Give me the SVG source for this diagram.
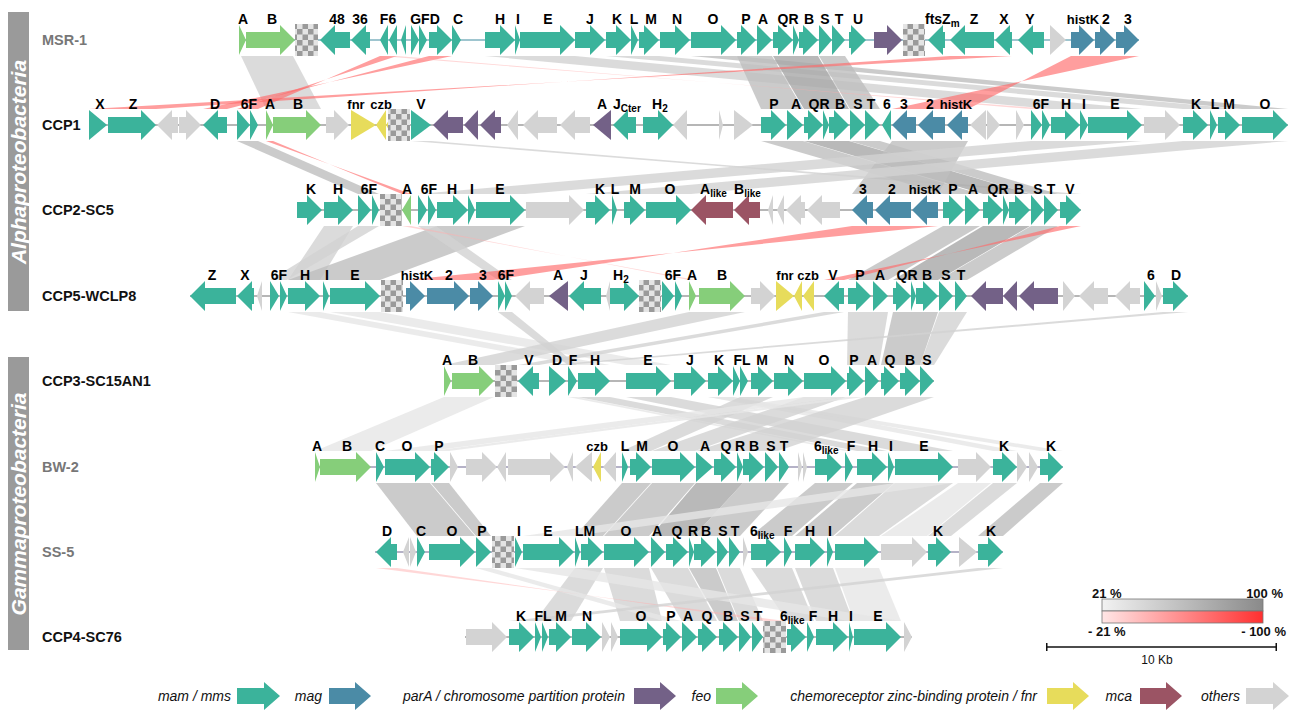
<svg xmlns="http://www.w3.org/2000/svg" width="1296" height="710" viewBox="0 0 1296 710">
<defs>
<pattern id="ck" width="11" height="11" patternUnits="userSpaceOnUse"><rect width="11" height="11" fill="#e4e4e4"/><rect width="5.5" height="5.5" fill="#9a9a9a"/><rect x="5.5" y="5.5" width="5.5" height="5.5" fill="#9a9a9a"/></pattern>
<linearGradient id="gg" x1="0" x2="1" y1="0" y2="0"><stop offset="0" stop-color="#f2f2f2"/><stop offset="1" stop-color="#8a8a8a"/></linearGradient>
<linearGradient id="rg" x1="0" x2="1" y1="0" y2="0"><stop offset="0" stop-color="#ffe6e6"/><stop offset="1" stop-color="#ff3030"/></linearGradient>
</defs>
<style>
.m{fill:#3bb39b}.g{fill:#4b8ba6}.p{fill:#736187}.f{fill:#86ce7a}.y{fill:#e7dc5b}.c{fill:#9b5464}.o{fill:#d3d3d3}
.ck{fill:url(#ck)}
.bb{stroke:#6e6e6e;stroke-width:1.2}
.t{font-family:"Liberation Sans",Arial,Helvetica,sans-serif;font-weight:bold;font-size:14px;text-anchor:middle;fill:#000}
.st{text-anchor:start}
.s{font-size:10px}
.h{font-size:13px}
.rl{font-family:"Liberation Sans",Arial,Helvetica,sans-serif;font-weight:bold;font-size:14.5px;fill:#111}
.gr{fill:#777}
.b0{fill:#e6e6e6;fill-opacity:.8}.b1{fill:#d2d2d2;fill-opacity:.8}.b2{fill:#bebebe;fill-opacity:.8}.b3{fill:#a8a8a8;fill-opacity:.8}
.r0{fill:#ffb0b0;fill-opacity:.5}.r1{fill:#ff6a6a;fill-opacity:.65}
.lg{font-family:"Liberation Sans",Arial,Helvetica,sans-serif;font-style:italic;font-size:14px;text-anchor:end;fill:#111}
.sc{font-family:"Liberation Sans",Arial,Helvetica,sans-serif;font-weight:bold;font-size:13px;fill:#111}
.side{font-family:"Liberation Sans",Arial,Helvetica,sans-serif;font-weight:bold;font-style:italic;font-size:21px;fill:#fff;text-anchor:middle}
</style>
<rect width="1296" height="710" fill="#fff"/>

<g id="groups">
<rect x="8" y="12" width="21" height="299" fill="#9a9a9a"/>
<text class="side" transform="translate(26,162) rotate(-90)">Alphaproteobacteria</text>
<rect x="8" y="357" width="21" height="293" fill="#9a9a9a"/>
<text class="side" transform="translate(26,504) rotate(-90)">Gammaproteobacteria</text>
</g>

<g id="connectors">
<polygon class="b1" points="241,56 293,56 321,109 266,109"/>
<polygon class="b1" points="485,56 575,56 1142,109 1051,109"/>
<polygon class="b1" points="606,56 659,56 1240,109 1183,109"/>
<polygon class="b2" points="691,56 736,56 1288,109 1242,109"/>
<polygon class="b2" points="737,56 772,56 803,109 761,109"/>
<polygon class="b3" points="773,56 818,56 849,109 804,109"/>
<polygon class="b2" points="819,56 845,56 880,109 850,109"/>
<polygon class="r1" points="1071,56 1139,56 892,109 968,109"/>
<polygon class="r1" points="950,56 1012,56 89,109 156,109"/>
<polygon class="r1" points="429,56 452,56 203,109 227,109"/>
<polygon class="r1" points="380,56 397,56 237,109 258,109"/>
<polygon class="r0" points="380,56 397,56 1031,109 1050,109"/>

<polygon class="b2" points="237,141 258,141 379,194 358,194"/>
<polygon class="r1" points="266,141 273,141 402,194 411,194"/>
<polygon class="b1" points="411,141 431,141 1081,194 1060,194"/>
<polygon class="b2" points="761,141 803,141 980,194 943,194"/>
<polygon class="b3" points="804,141 849,141 1030,194 983,194"/>
<polygon class="b2" points="850,141 880,141 1058,194 1031,194"/>
<polygon class="b2" points="892,141 968,141 938,194 852,194"/>
<polygon class="b1" points="1031,141 1142,141 525,194 418,194"/>
<polygon class="b1" points="1183,141 1288,141 691,194 586,194"/>

<polygon class="b1" points="324,226 353,226 320,280 288,280"/>
<polygon class="b1" points="358,226 379,226 287,280 270,280"/>
<polygon class="b2" points="437,226 525,226 380,280 288,280"/>
<polygon class="b1" points="418,226 436,226 512,280 498,280"/>
<polygon class="r1" points="852,226 938,226 406,280 493,280"/>
<polygon class="b2" points="943,226 980,226 888,280 848,280"/>
<polygon class="b3" points="983,226 1030,226 938,280 893,280"/>
<polygon class="b2" points="1031,226 1058,226 967,280 939,280"/>
<polygon class="r1" points="1060,226 1081,226 824,280 844,280"/>
<polygon class="r0" points="402,226 411,226 689,280 696,280"/>

<polygon class="b0" points="288,312 320,312 610,365 578,365"/>
<polygon class="b0" points="330,312 380,312 671,365 626,365"/>
<polygon class="b1" points="498,312 512,312 577,365 568,365"/>
<polygon class="b1" points="689,312 745,312 494,365 444,365"/>
<polygon class="b1" points="824,312 844,312 539,365 518,365"/>
<polygon class="b1" points="848,312 888,312 879,365 847,365"/>
<polygon class="b2" points="893,312 938,312 920,365 881,365"/>
<polygon class="b1" points="939,312 967,312 934,365 920,365"/>
<polygon class="b1" points="1163,312 1188,312 566,365 549,365"/>

<polygon class="b0" points="444,397 494,397 371,451 315,451"/>
<polygon class="b0" points="568,397 577,397 853,451 845,451"/>
<polygon class="b1" points="578,397 610,397 887,451 857,451"/>
<polygon class="b1" points="626,397 671,397 953,451 895,451"/>
<polygon class="b0" points="708,397 733,397 1017,451 993,451"/>
<polygon class="b0" points="708,397 733,397 1063,451 1040,451"/>
<polygon class="b1" points="740,397 773,397 651,451 622,451"/>
<polygon class="b1" points="804,397 846,397 695,451 652,451"/>
<polygon class="b0" points="804,397 846,397 430,451 385,451"/>
<polygon class="b0" points="847,397 864,397 449,451 431,451"/>
<polygon class="b1" points="865,397 934,397 778,451 696,451"/>

<polygon class="b2" points="376,483 430,483 475,536 417,536"/>
<polygon class="b2" points="431,483 449,483 491,536 476,536"/>
<polygon class="b2" points="622,483 651,483 603,536 575,536"/>
<polygon class="b2" points="652,483 695,483 649,536 604,536"/>
<polygon class="b3" points="696,483 743,483 694,536 651,536"/>
<polygon class="b2" points="743,483 789,483 740,536 694,536"/>
<polygon class="b2" points="815,483 853,483 792,536 751,536"/>
<polygon class="b2" points="857,483 894,483 833,536 795,536"/>
<polygon class="b1" points="895,483 953,483 879,536 835,536"/>
<polygon class="b0" points="895,483 953,483 574,536 523,536"/>
<polygon class="b0" points="958,483 991,483 927,536 881,536"/>
<polygon class="b1" points="993,483 1017,483 951,536 928,536"/>
<polygon class="b2" points="1040,483 1063,483 1003,536 978,536"/>

<polygon class="b1" points="575,568 603,568 571,621 535,621"/>
<polygon class="b1" points="604,568 649,568 662,621 620,621"/>
<polygon class="b0" points="476,568 491,568 681,621 663,621"/>
<polygon class="b1" points="651,568 688,568 717,621 682,621"/>
<polygon class="b2" points="689,568 716,568 738,621 719,621"/>
<polygon class="b1" points="717,568 740,568 763,621 739,621"/>
<polygon class="b1" points="751,568 792,568 814,621 787,621"/>
<polygon class="b1" points="795,568 833,568 853,621 816,621"/>
<polygon class="b0" points="835,568 879,568 901,621 854,621"/>
<polygon class="b0" points="515,568 574,568 901,621 849,621"/>
<polygon class="r0" points="376,568 397,568 765,621 785,621"/>
<polygon class="b1" points="978,568 1003,568 534,621 509,621"/>
</g>

<g id="MSR-1" transform="translate(0,40)">
<text class="rl gr" x="42" y="5">MSR-1</text>
<line class="bb" x1="239" x2="1139" y1="0" y2="0" style="stroke:#3f8ca0"/>
<polygon class="f" points="239,-15 246,0 239,15"/>
<polygon class="f" points="246,-8 280,-8 280,-15 295,0 280,15 280,8 246,8"/>
<rect class="ck" x="295" y="-16" width="23" height="32"/>
<polygon class="m" points="350,-8 335,-8 335,-15 320,0 335,15 335,8 350,8"/>
<polygon class="m" points="370,-8 366,-8 366,-15 351,0 366,15 366,8 370,8"/>
<polygon class="m" points="388,-15 380,0 388,15"/>
<polygon class="m" points="397,-15 389,0 397,15"/>
<polygon class="m" points="406,-15 401,0 406,15"/>
<polygon class="m" points="411,-15 419,0 411,15"/>
<polygon class="m" points="419,-15 427,0 419,15"/>
<polygon class="m" points="429,-8 437,-8 437,-15 452,0 437,15 437,8 429,8"/>
<polygon class="m" points="452,-15 461,0 452,15"/>
<polygon class="m" points="485,-8 500,-8 500,-15 515,0 500,15 500,8 485,8"/>
<polygon class="m" points="515,-15 520,0 515,15"/>
<polygon class="m" points="520,-8 560,-8 560,-15 575,0 560,15 560,8 520,8"/>
<polygon class="m" points="575,-8 590,-8 590,-15 605,0 590,15 590,8 575,8"/>
<polygon class="m" points="606,-8 616,-8 616,-15 631,0 616,15 616,8 606,8"/>
<polygon class="m" points="631,-15 638,0 631,15"/>
<polygon class="m" points="639,-8 644,-8 644,-15 659,0 644,15 644,8 639,8"/>
<polygon class="m" points="660,-8 675,-8 675,-15 690,0 675,15 675,8 660,8"/>
<polygon class="m" points="691,-8 721,-8 721,-15 736,0 721,15 721,8 691,8"/>
<polygon class="m" points="737,-8 741,-8 741,-15 756,0 741,15 741,8 737,8"/>
<polygon class="m" points="757,-15 772,0 757,15"/>
<polygon class="m" points="773,-8 778,-8 778,-15 793,0 778,15 778,8 773,8"/>
<polygon class="m" points="793,-15 799,0 793,15"/>
<polygon class="m" points="799,-8 803,-8 803,-15 818,0 803,15 803,8 799,8"/>
<polygon class="m" points="819,-15 832,0 819,15"/>
<polygon class="m" points="832,-15 845,0 832,15"/>
<polygon class="m" points="849,-8 851,-8 851,-15 866,0 851,15 851,8 849,8"/>
<polygon class="p" points="874,-8 887,-8 887,-15 902,0 887,15 887,8 874,8"/>
<rect class="ck" x="903" y="-16" width="22" height="32"/>
<polygon class="m" points="945,-8 943,-8 943,-15 928,0 943,15 943,8 945,8"/>
<polygon class="m" points="994,-8 965,-8 965,-15 950,0 965,15 965,8 994,8"/>
<polygon class="m" points="1012,-8 1010,-8 1010,-15 995,0 1010,15 1010,8 1012,8"/>
<polygon class="m" points="1044,-8 1033,-8 1033,-15 1018,0 1033,15 1033,8 1044,8"/>
<polygon class="o" points="1050,-15 1066,0 1050,15"/>
<polygon class="g" points="1071,-8 1079,-8 1079,-15 1094,0 1079,15 1079,8 1071,8"/>
<polygon class="g" points="1095,-8 1100,-8 1100,-15 1115,0 1100,15 1100,8 1095,8"/>
<polygon class="g" points="1116,-8 1124,-8 1124,-15 1139,0 1124,15 1124,8 1116,8"/>
<text class="t" x="243" y="-16">A</text><text class="t" x="272" y="-16">B</text>
<text class="t" x="337" y="-16">48</text><text class="t" x="360" y="-16">36</text>
<text class="t" x="388" y="-16">F6</text><text class="t" x="425" y="-16">GFD</text>
<text class="t" x="458" y="-16">C</text><text class="t" x="500" y="-16">H</text>
<text class="t" x="518" y="-16">I</text><text class="t" x="548" y="-16">E</text>
<text class="t" x="590" y="-16">J</text><text class="t" x="617" y="-16">K</text>
<text class="t" x="634" y="-16">L</text><text class="t" x="651" y="-16">M</text>
<text class="t" x="677" y="-16">N</text><text class="t" x="713" y="-16">O</text>
<text class="t" x="746" y="-16">P</text><text class="t" x="763" y="-16">A</text>
<text class="t" x="788" y="-16">QR</text><text class="t" x="809" y="-16">B</text>
<text class="t" x="825" y="-16">S</text><text class="t" x="839" y="-16">T</text>
<text class="t" x="858" y="-16">U</text>
<text class="t st" x="925" y="-16">ftsZ<tspan class="s" dy="3">m</tspan></text>
<text class="t" x="974" y="-16">Z</text><text class="t" x="1004" y="-16">X</text>
<text class="t" x="1030" y="-16">Y</text><text class="t h" x="1083" y="-16">histK</text>
<text class="t" x="1106" y="-16">2</text><text class="t" x="1128" y="-16">3</text>
</g>

<g id="CCP1" transform="translate(0,125)">
<text class="rl" x="42" y="5">CCP1</text>
<line class="bb" x1="89" x2="1288" y1="0" y2="0"/>
<polygon class="m" points="89,-15 107,0 89,15"/>
<polygon class="m" points="108,-8 141,-8 141,-15 156,0 141,15 141,8 108,8"/>
<polygon class="o" points="178,-8 172,-8 172,-15 157,0 172,15 172,8 178,8"/>
<polygon class="o" points="179,-8 186,-8 186,-15 201,0 186,15 186,8 179,8"/>
<polygon class="m" points="227,-8 218,-8 218,-15 203,0 218,15 218,8 227,8"/>
<polygon class="m" points="237,-15 250,0 237,15"/>
<polygon class="m" points="250,-15 258,0 250,15"/>
<polygon class="f" points="266,-15 273,0 266,15"/>
<polygon class="f" points="273,-8 306,-8 306,-15 321,0 306,15 306,8 273,8"/>
<polygon class="o" points="326,-8 334,-8 334,-15 349,0 334,15 334,8 326,8"/>
<polygon class="y" points="351,-15 376,0 351,15"/>
<polygon class="y" points="386,-15 376,0 386,15"/>
<polygon class="y" points="395,-15 386,0 395,15"/>
<rect class="ck" x="388" y="-16" width="22" height="32"/>
<polygon class="m" points="411,-15 431,0 411,15"/>
<polygon class="p" points="463,-8 448,-8 448,-15 433,0 448,15 448,8 463,8"/>
<polygon class="p" points="478,-15 464,0 478,15"/>
<polygon class="p" points="501,-8 495,-8 495,-15 480,0 495,15 495,8 501,8"/>
<polygon class="o" points="518,-15 507,0 518,15"/>
<polygon class="o" points="557,-8 538,-8 538,-15 523,0 538,15 538,8 557,8"/>
<polygon class="o" points="590,-8 575,-8 575,-15 560,0 575,15 575,8 590,8"/>
<polygon class="p" points="611,-15 593,0 611,15"/>
<polygon class="m" points="636,-8 628,-8 628,-15 613,0 628,15 628,8 636,8"/>
<polygon class="m" points="643,-8 658,-8 658,-15 673,0 658,15 658,8 643,8"/>
<polygon class="o" points="687,-15 673,0 687,15"/>
<polygon class="o" points="719,-15 723,0 719,15"/>
<polygon class="o" points="734,-15 753,0 734,15"/>
<polygon class="m" points="761,-8 771,-8 771,-15 786,0 771,15 771,8 761,8"/>
<polygon class="m" points="787,-15 803,0 787,15"/>
<polygon class="m" points="804,-8 808,-8 808,-15 823,0 808,15 808,8 804,8"/>
<polygon class="m" points="823,-15 829,0 823,15"/>
<polygon class="m" points="829,-8 834,-8 834,-15 849,0 834,15 834,8 829,8"/>
<polygon class="m" points="850,-15 865,0 850,15"/>
<polygon class="m" points="865,-15 880,0 865,15"/>
<polygon class="m" points="891,-15 882,0 891,15"/>
<polygon class="g" points="916,-8 907,-8 907,-15 892,0 907,15 907,8 916,8"/>
<polygon class="g" points="945,-8 933,-8 933,-15 918,0 933,15 933,8 945,8"/>
<polygon class="g" points="968,-8 962,-8 962,-15 947,0 962,15 962,8 968,8"/>
<polygon class="o" points="986,-15 970,0 986,15"/>
<polygon class="o" points="987,-15 1000,0 987,15"/>
<polygon class="o" points="1016,-15 1024,0 1016,15"/>
<polygon class="m" points="1031,-15 1042,0 1031,15"/>
<polygon class="m" points="1042,-15 1050,0 1042,15"/>
<polygon class="m" points="1051,-8 1065,-8 1065,-15 1080,0 1065,15 1065,8 1051,8"/>
<polygon class="m" points="1080,-15 1088,0 1080,15"/>
<polygon class="m" points="1088,-8 1127,-8 1127,-15 1142,0 1127,15 1127,8 1088,8"/>
<polygon class="o" points="1144,-8 1165,-8 1165,-15 1180,0 1165,15 1165,8 1144,8"/>
<polygon class="m" points="1183,-8 1193,-8 1193,-15 1208,0 1193,15 1193,8 1183,8"/>
<polygon class="m" points="1210,-15 1217,0 1210,15"/>
<polygon class="m" points="1218,-8 1225,-8 1225,-15 1240,0 1225,15 1225,8 1218,8"/>
<polygon class="m" points="1242,-8 1273,-8 1273,-15 1288,0 1273,15 1273,8 1242,8"/>
<text class="t" x="100" y="-16">X</text><text class="t" x="133" y="-16">Z</text>
<text class="t" x="215" y="-16">D</text><text class="t" x="249" y="-16">6F</text>
<text class="t" x="270" y="-16">A</text><text class="t" x="298" y="-16">B</text>
<text class="t h" x="356" y="-16">fnr</text><text class="t h" x="381" y="-16">czb</text>
<text class="t" x="421" y="-16">V</text><text class="t" x="602" y="-16">A</text>
<text class="t st" x="613" y="-16">J<tspan class="s" dy="3">Cter</tspan></text>
<text class="t st" x="652" y="-16">H<tspan class="s" dy="3">2</tspan></text>
<text class="t" x="774" y="-16">P</text><text class="t" x="796" y="-16">A</text>
<text class="t" x="819" y="-16">QR</text><text class="t" x="840" y="-16">B</text>
<text class="t" x="858" y="-16">S</text><text class="t" x="871" y="-16">T</text>
<text class="t" x="887" y="-16">6</text><text class="t" x="904" y="-16">3</text>
<text class="t" x="930" y="-16">2</text><text class="t h" x="956" y="-16">histK</text>
<text class="t" x="1041" y="-16">6F</text><text class="t" x="1066" y="-16">H</text>
<text class="t" x="1084" y="-16">I</text><text class="t" x="1115" y="-16">E</text>
<text class="t" x="1196" y="-16">K</text><text class="t" x="1215" y="-16">L</text>
<text class="t" x="1229" y="-16">M</text><text class="t" x="1265" y="-16">O</text>
</g>

<g id="CCP2-SC5" transform="translate(0,210)">
<text class="rl" x="42" y="5">CCP2-SC5</text>
<line class="bb" x1="297" x2="1081" y1="0" y2="0"/>
<polygon class="m" points="297,-8 307,-8 307,-15 322,0 307,15 307,8 297,8"/>
<polygon class="m" points="324,-8 338,-8 338,-15 353,0 338,15 338,8 324,8"/>
<polygon class="m" points="358,-15 371,0 358,15"/>
<polygon class="m" points="372,-15 379,0 372,15"/>
<rect class="ck" x="380" y="-16" width="22" height="32"/>
<polygon class="f" points="411,-15 402,0 411,15"/>
<polygon class="m" points="418,-15 427,0 418,15"/>
<polygon class="m" points="428,-15 436,0 428,15"/>
<polygon class="m" points="437,-8 453,-8 453,-15 468,0 453,15 453,8 437,8"/>
<polygon class="m" points="468,-15 475,0 468,15"/>
<polygon class="m" points="476,-8 510,-8 510,-15 525,0 510,15 510,8 476,8"/>
<polygon class="o" points="526,-8 569,-8 569,-15 584,0 569,15 569,8 526,8"/>
<polygon class="m" points="586,-8 595,-8 595,-15 610,0 595,15 595,8 586,8"/>
<polygon class="m" points="612,-15 617,0 612,15"/>
<polygon class="m" points="624,-8 630,-8 630,-15 645,0 630,15 630,8 624,8"/>
<polygon class="m" points="646,-8 676,-8 676,-15 691,0 676,15 676,8 646,8"/>
<polygon class="c" points="733,-8 706,-8 706,-15 691,0 706,15 706,8 733,8"/>
<polygon class="c" points="760,-8 749,-8 749,-15 734,0 749,15 749,8 760,8"/>
<polygon class="o" points="773,-15 768,0 773,15"/>
<polygon class="o" points="784,-15 777,0 784,15"/>
<polygon class="o" points="805,-8 801,-8 801,-15 786,0 801,15 801,8 805,8"/>
<polygon class="o" points="840,-8 822,-8 822,-15 807,0 822,15 822,8 840,8"/>
<polygon class="g" points="873,-8 867,-8 867,-15 852,0 867,15 867,8 873,8"/>
<polygon class="g" points="911,-8 890,-8 890,-15 875,0 890,15 890,8 911,8"/>
<polygon class="g" points="938,-8 927,-8 927,-15 912,0 927,15 927,8 938,8"/>
<polygon class="m" points="943,-8 949,-8 949,-15 964,0 949,15 949,8 943,8"/>
<polygon class="m" points="965,-15 980,0 965,15"/>
<polygon class="m" points="983,-8 988,-8 988,-15 1003,0 988,15 988,8 983,8"/>
<polygon class="m" points="1003,-15 1009,0 1003,15"/>
<polygon class="m" points="1009,-8 1015,-8 1015,-15 1030,0 1015,15 1015,8 1009,8"/>
<polygon class="m" points="1031,-15 1044,0 1031,15"/>
<polygon class="m" points="1044,-15 1058,0 1044,15"/>
<polygon class="m" points="1060,-8 1066,-8 1066,-15 1081,0 1066,15 1066,8 1060,8"/>
<text class="t" x="311" y="-16">K</text><text class="t" x="338" y="-16">H</text>
<text class="t" x="369" y="-16">6F</text><text class="t" x="407" y="-16">A</text>
<text class="t" x="429" y="-16">6F</text><text class="t" x="452" y="-16">H</text>
<text class="t" x="472" y="-16">I</text><text class="t" x="500" y="-16">E</text>
<text class="t" x="600" y="-16">K</text><text class="t" x="615" y="-16">L</text>
<text class="t" x="635" y="-16">M</text><text class="t" x="670" y="-16">O</text>
<text class="t st" x="700" y="-16">A<tspan class="s" dy="3">like</tspan></text>
<text class="t st" x="734" y="-16">B<tspan class="s" dy="3">like</tspan></text>
<text class="t" x="863" y="-16">3</text><text class="t" x="892" y="-16">2</text>
<text class="t h" x="925" y="-16">histK</text><text class="t" x="953" y="-16">P</text>
<text class="t" x="973" y="-16">A</text><text class="t" x="998" y="-16">QR</text>
<text class="t" x="1019" y="-16">B</text><text class="t" x="1038" y="-16">S</text>
<text class="t" x="1051" y="-16">T</text><text class="t" x="1070" y="-16">V</text>
</g>

<g id="CCP5-WCLP8" transform="translate(0,296)">
<text class="rl" x="42" y="5">CCP5-WCLP8</text>
<line class="bb" x1="190" x2="1188" y1="0" y2="0"/>
<polygon class="m" points="236,-8 205,-8 205,-15 190,0 205,15 205,8 236,8"/>
<polygon class="m" points="254,-8 252,-8 252,-15 237,0 252,15 252,8 254,8"/>
<polygon class="o" points="262,-15 257,0 262,15"/>
<polygon class="m" points="270,-15 279,0 270,15"/>
<polygon class="m" points="280,-15 287,0 280,15"/>
<polygon class="m" points="288,-8 305,-8 305,-15 320,0 305,15 305,8 288,8"/>
<polygon class="m" points="323,-15 329,0 323,15"/>
<polygon class="m" points="330,-8 365,-8 365,-15 380,0 365,15 365,8 330,8"/>
<rect class="ck" x="381" y="-16" width="22" height="32"/>
<polygon class="g" points="406,-8 410,-8 410,-15 425,0 410,15 410,8 406,8"/>
<polygon class="g" points="427,-8 454,-8 454,-15 469,0 454,15 454,8 427,8"/>
<polygon class="g" points="470,-8 478,-8 478,-15 493,0 478,15 478,8 470,8"/>
<polygon class="m" points="498,-15 505,0 498,15"/>
<polygon class="m" points="505,-15 512,0 505,15"/>
<polygon class="o" points="544,-8 530,-8 530,-15 515,0 530,15 530,8 544,8"/>
<polygon class="p" points="568,-15 549,0 568,15"/>
<polygon class="m" points="601,-8 584,-8 584,-15 569,0 584,15 584,8 601,8"/>
<polygon class="o" points="610,-15 606,0 610,15"/>
<polygon class="m" points="610,-8 624,-8 624,-15 639,0 624,15 624,8 610,8"/>
<rect class="ck" x="639" y="-16" width="22" height="32"/>
<polygon class="m" points="662,-15 674,0 662,15"/>
<polygon class="m" points="675,-15 682,0 675,15"/>
<polygon class="f" points="689,-15 696,0 689,15"/>
<polygon class="f" points="699,-8 730,-8 730,-15 745,0 730,15 730,8 699,8"/>
<polygon class="o" points="751,-8 760,-8 760,-15 775,0 760,15 760,8 751,8"/>
<polygon class="y" points="776,-15 794,0 776,15"/>
<polygon class="y" points="802,-15 794,0 802,15"/>
<polygon class="y" points="814,-15 803,0 814,15"/>
<polygon class="m" points="844,-8 839,-8 839,-15 824,0 839,15 839,8 844,8"/>
<polygon class="m" points="848,-8 856,-8 856,-15 871,0 856,15 856,8 848,8"/>
<polygon class="m" points="873,-15 888,0 873,15"/>
<polygon class="m" points="893,-8 896,-8 896,-15 911,0 896,15 896,8 893,8"/>
<polygon class="m" points="911,-15 916,0 911,15"/>
<polygon class="m" points="916,-8 923,-8 923,-15 938,0 923,15 923,8 916,8"/>
<polygon class="m" points="939,-15 953,0 939,15"/>
<polygon class="m" points="955,-15 967,0 955,15"/>
<polygon class="p" points="1003,-8 986,-8 986,-15 971,0 986,15 986,8 1003,8"/>
<polygon class="p" points="1017,-15 1003,0 1017,15"/>
<polygon class="p" points="1058,-8 1034,-8 1034,-15 1019,0 1034,15 1034,8 1058,8"/>
<polygon class="o" points="1063,-15 1075,0 1063,15"/>
<polygon class="o" points="1108,-8 1094,-8 1094,-15 1079,0 1094,15 1094,8 1108,8"/>
<polygon class="o" points="1140,-8 1130,-8 1130,-15 1115,0 1130,15 1130,8 1140,8"/>
<polygon class="m" points="1144,-15 1155,0 1144,15"/>
<polygon class="o" points="1156,-15 1162,0 1156,15"/>
<polygon class="m" points="1163,-8 1173,-8 1173,-15 1188,0 1173,15 1173,8 1163,8"/>
<text class="t" x="212" y="-16">Z</text><text class="t" x="245" y="-16">X</text>
<text class="t" x="279" y="-16">6F</text><text class="t" x="305" y="-16">H</text>
<text class="t" x="327" y="-16">I</text><text class="t" x="355" y="-16">E</text>
<text class="t h" x="417" y="-16">histK</text><text class="t" x="449" y="-16">2</text>
<text class="t" x="483" y="-16">3</text><text class="t" x="506" y="-16">6F</text>
<text class="t" x="558" y="-16">A</text><text class="t" x="584" y="-16">J</text>
<text class="t st" x="613" y="-16">H<tspan class="s" dy="3">2</tspan></text>
<text class="t" x="673" y="-16">6F</text><text class="t" x="692" y="-16">A</text>
<text class="t" x="722" y="-16">B</text>
<text class="t h" x="785" y="-16">fnr</text><text class="t h" x="808" y="-16">czb</text>
<text class="t" x="833" y="-16">V</text><text class="t" x="860" y="-16">P</text>
<text class="t" x="880" y="-16">A</text><text class="t" x="907" y="-16">QR</text>
<text class="t" x="927" y="-16">B</text><text class="t" x="946" y="-16">S</text>
<text class="t" x="961" y="-16">T</text><text class="t" x="1151" y="-16">6</text>
<text class="t" x="1176" y="-16">D</text>
</g>

<g id="CCP3-SC15AN1" transform="translate(0,381)">
<text class="rl" x="42" y="5">CCP3-SC15AN1</text>
<line class="bb" x1="444" x2="934" y1="0" y2="0"/>
<polygon class="f" points="444,-15 451,0 444,15"/>
<polygon class="f" points="452,-8 479,-8 479,-15 494,0 479,15 479,8 452,8"/>
<rect class="ck" x="495" y="-16" width="22" height="32"/>
<polygon class="m" points="539,-8 533,-8 533,-15 518,0 533,15 533,8 539,8"/>
<polygon class="m" points="549,-15 566,0 549,15"/>
<polygon class="m" points="568,-15 577,0 568,15"/>
<polygon class="m" points="578,-8 595,-8 595,-15 610,0 595,15 595,8 578,8"/>
<polygon class="m" points="626,-8 656,-8 656,-15 671,0 656,15 656,8 626,8"/>
<polygon class="m" points="674,-8 691,-8 691,-15 706,0 691,15 691,8 674,8"/>
<polygon class="m" points="708,-8 718,-8 718,-15 733,0 718,15 718,8 708,8"/>
<polygon class="m" points="733,-15 740,0 733,15"/>
<polygon class="m" points="740,-15 748,0 740,15"/>
<polygon class="m" points="751,-8 758,-8 758,-15 773,0 758,15 758,8 751,8"/>
<polygon class="m" points="774,-8 788,-8 788,-15 803,0 788,15 788,8 774,8"/>
<polygon class="m" points="804,-8 831,-8 831,-15 846,0 831,15 831,8 804,8"/>
<polygon class="m" points="847,-8 849,-8 849,-15 864,0 849,15 849,8 847,8"/>
<polygon class="m" points="865,-15 879,0 865,15"/>
<polygon class="m" points="881,-8 884,-8 884,-15 899,0 884,15 884,8 881,8"/>
<polygon class="m" points="900,-8 905,-8 905,-15 920,0 905,15 905,8 900,8"/>
<polygon class="m" points="920,-15 934,0 920,15"/>
<text class="t" x="447" y="-16">A</text><text class="t" x="473" y="-16">B</text>
<text class="t" x="529" y="-16">V</text><text class="t" x="557" y="-16">D</text>
<text class="t" x="573" y="-16">F</text><text class="t" x="595" y="-16">H</text>
<text class="t" x="648" y="-16">E</text><text class="t" x="690" y="-16">J</text>
<text class="t" x="719" y="-16">K</text><text class="t" x="742" y="-16">FL</text>
<text class="t" x="762" y="-16">M</text><text class="t" x="789" y="-16">N</text>
<text class="t" x="824" y="-16">O</text><text class="t" x="854" y="-16">P</text>
<text class="t" x="872" y="-16">A</text><text class="t" x="890" y="-16">Q</text>
<text class="t" x="910" y="-16">B</text><text class="t" x="927" y="-16">S</text>
</g>

<g id="BW-2" transform="translate(0,467)">
<text class="rl gr" x="42" y="5">BW-2</text>
<line class="bb" x1="315" x2="1063" y1="0" y2="0" style="stroke:#6d6690"/>
<polygon class="f" points="315,-15 320,0 315,15"/>
<polygon class="f" points="320,-8 356,-8 356,-15 371,0 356,15 356,8 320,8"/>
<polygon class="m" points="376,-15 384,0 376,15"/>
<polygon class="m" points="385,-8 415,-8 415,-15 430,0 415,15 415,8 385,8"/>
<polygon class="m" points="431,-8 434,-8 434,-15 449,0 434,15 434,8 431,8"/>
<polygon class="o" points="450,-15 458,0 450,15"/>
<polygon class="o" points="466,-8 482,-8 482,-15 497,0 482,15 482,8 466,8"/>
<polygon class="o" points="506,-15 497,0 506,15"/>
<polygon class="o" points="508,-8 550,-8 550,-15 565,0 550,15 550,8 508,8"/>
<polygon class="o" points="573,-15 567,0 573,15"/>
<polygon class="o" points="592,-15 575,0 592,15"/>
<polygon class="y" points="601,-15 593,0 601,15"/>
<polygon class="o" points="616,-15 603,0 616,15"/>
<polygon class="m" points="622,-15 628,0 622,15"/>
<polygon class="m" points="630,-8 636,-8 636,-15 651,0 636,15 636,8 630,8"/>
<polygon class="m" points="652,-8 680,-8 680,-15 695,0 680,15 680,8 652,8"/>
<polygon class="m" points="696,-15 713,0 696,15"/>
<polygon class="m" points="714,-8 721,-8 721,-15 736,0 721,15 721,8 714,8"/>
<polygon class="m" points="737,-15 743,0 737,15"/>
<polygon class="m" points="743,-8 749,-8 749,-15 764,0 749,15 749,8 743,8"/>
<polygon class="m" points="765,-15 778,0 765,15"/>
<polygon class="m" points="779,-15 789,0 779,15"/>
<polygon class="o" points="798,-15 802,0 798,15"/>
<polygon class="o" points="803,-15 807,0 803,15"/>
<polygon class="m" points="815,-8 827,-8 827,-15 842,0 827,15 827,8 815,8"/>
<polygon class="m" points="845,-15 853,0 845,15"/>
<polygon class="m" points="857,-8 872,-8 872,-15 887,0 872,15 872,8 857,8"/>
<polygon class="m" points="888,-15 894,0 888,15"/>
<polygon class="m" points="895,-8 938,-8 938,-15 953,0 938,15 938,8 895,8"/>
<polygon class="o" points="958,-8 976,-8 976,-15 991,0 976,15 976,8 958,8"/>
<polygon class="m" points="993,-8 1002,-8 1002,-15 1017,0 1002,15 1002,8 993,8"/>
<polygon class="o" points="1017,-15 1027,0 1017,15"/>
<polygon class="o" points="1029,-15 1038,0 1029,15"/>
<polygon class="m" points="1040,-8 1048,-8 1048,-15 1063,0 1048,15 1048,8 1040,8"/>
<text class="t" x="317" y="-16">A</text><text class="t" x="347" y="-16">B</text>
<text class="t" x="380" y="-16">C</text><text class="t" x="407" y="-16">O</text>
<text class="t" x="439" y="-16">P</text><text class="t h" x="597" y="-16">czb</text>
<text class="t" x="625" y="-16">L</text><text class="t" x="642" y="-16">M</text>
<text class="t" x="673" y="-16">O</text><text class="t" x="705" y="-16">A</text>
<text class="t" x="726" y="-16">Q</text><text class="t" x="740" y="-16">R</text>
<text class="t" x="754" y="-16">B</text><text class="t" x="771" y="-16">S</text>
<text class="t" x="784" y="-16">T</text>
<text class="t st" x="814" y="-16">6<tspan class="s" dy="3">like</tspan></text>
<text class="t" x="851" y="-16">F</text><text class="t" x="873" y="-16">H</text>
<text class="t" x="891" y="-16">I</text><text class="t" x="924" y="-16">E</text>
<text class="t" x="1004" y="-16">K</text><text class="t" x="1051" y="-16">K</text>
</g>

<g id="SS-5" transform="translate(0,552)">
<text class="rl gr" x="42" y="5">SS-5</text>
<line class="bb" x1="375" x2="1003" y1="0" y2="0" style="stroke:#6d6690"/>
<polygon class="m" points="397,-8 391,-8 391,-15 376,0 391,15 391,8 397,8"/>
<polygon class="o" points="409,-15 403,0 409,15"/>
<polygon class="o" points="410,-15 416,0 410,15"/>
<polygon class="m" points="417,-15 425,0 417,15"/>
<polygon class="m" points="429,-8 460,-8 460,-15 475,0 460,15 460,8 429,8"/>
<polygon class="m" points="476,-15 491,0 476,15"/>
<rect class="ck" x="492" y="-16" width="22" height="32"/>
<polygon class="m" points="515,-15 522,0 515,15"/>
<polygon class="m" points="523,-8 559,-8 559,-15 574,0 559,15 559,8 523,8"/>
<polygon class="m" points="575,-15 580,0 575,15"/>
<polygon class="m" points="581,-8 588,-8 588,-15 603,0 588,15 588,8 581,8"/>
<polygon class="m" points="604,-8 634,-8 634,-15 649,0 634,15 634,8 604,8"/>
<polygon class="m" points="651,-15 665,0 651,15"/>
<polygon class="m" points="666,-8 673,-8 673,-15 688,0 673,15 673,8 666,8"/>
<polygon class="m" points="689,-15 694,0 689,15"/>
<polygon class="m" points="694,-8 701,-8 701,-15 716,0 701,15 701,8 694,8"/>
<polygon class="m" points="717,-15 728,0 717,15"/>
<polygon class="m" points="729,-15 740,0 729,15"/>
<polygon class="o" points="743,-15 748,0 743,15"/>
<polygon class="m" points="751,-8 766,-8 766,-15 781,0 766,15 766,8 751,8"/>
<polygon class="m" points="784,-15 792,0 784,15"/>
<polygon class="m" points="795,-8 810,-8 810,-15 825,0 810,15 810,8 795,8"/>
<polygon class="m" points="827,-15 833,0 827,15"/>
<polygon class="m" points="835,-8 864,-8 864,-15 879,0 864,15 864,8 835,8"/>
<polygon class="o" points="881,-8 912,-8 912,-15 927,0 912,15 912,8 881,8"/>
<polygon class="m" points="928,-8 936,-8 936,-15 951,0 936,15 936,8 928,8"/>
<polygon class="o" points="959,-15 977,0 959,15"/>
<polygon class="m" points="978,-8 988,-8 988,-15 1003,0 988,15 988,8 978,8"/>
<text class="t" x="387" y="-16">D</text><text class="t" x="421" y="-16">C</text>
<text class="t" x="452" y="-16">O</text><text class="t" x="482" y="-16">P</text>
<text class="t" x="519" y="-16">I</text><text class="t" x="548" y="-16">E</text>
<text class="t" x="585" y="-16">LM</text><text class="t" x="626" y="-16">O</text>
<text class="t" x="657" y="-16">A</text><text class="t" x="677" y="-16">Q</text>
<text class="t" x="693" y="-16">R</text><text class="t" x="706" y="-16">B</text>
<text class="t" x="723" y="-16">S</text><text class="t" x="735" y="-16">T</text>
<text class="t st" x="750" y="-16">6<tspan class="s" dy="3">like</tspan></text>
<text class="t" x="788" y="-16">F</text><text class="t" x="810" y="-16">H</text>
<text class="t" x="830" y="-16">I</text><text class="t" x="938" y="-16">K</text>
<text class="t" x="991" y="-16">K</text>
</g>

<g id="CCP4-SC76" transform="translate(0,637)">
<text class="rl" x="42" y="5">CCP4-SC76</text>
<line class="bb" x1="465" x2="912" y1="0" y2="0"/>
<polygon class="o" points="466,-8 492,-8 492,-15 507,0 492,15 492,8 466,8"/>
<polygon class="m" points="509,-8 519,-8 519,-15 534,0 519,15 519,8 509,8"/>
<polygon class="m" points="535,-15 541,0 535,15"/>
<polygon class="m" points="542,-15 548,0 542,15"/>
<polygon class="m" points="549,-8 556,-8 556,-15 571,0 556,15 556,8 549,8"/>
<polygon class="m" points="572,-8 586,-8 586,-15 601,0 586,15 586,8 572,8"/>
<polygon class="o" points="602,-15 610,0 602,15"/>
<polygon class="o" points="611,-15 618,0 611,15"/>
<polygon class="m" points="620,-8 647,-8 647,-15 662,0 647,15 647,8 620,8"/>
<polygon class="m" points="663,-8 666,-8 666,-15 681,0 666,15 666,8 663,8"/>
<polygon class="m" points="682,-15 697,0 682,15"/>
<polygon class="m" points="698,-8 702,-8 702,-15 717,0 702,15 702,8 698,8"/>
<polygon class="m" points="719,-8 723,-8 723,-15 738,0 723,15 723,8 719,8"/>
<polygon class="m" points="739,-15 751,0 739,15"/>
<polygon class="m" points="752,-15 763,0 752,15"/>
<rect class="ck" x="763" y="-16" width="23" height="32"/>
<polygon class="m" points="787,-8 791,-8 791,-15 806,0 791,15 791,8 787,8"/>
<polygon class="m" points="807,-15 814,0 807,15"/>
<polygon class="m" points="816,-8 833,-8 833,-15 848,0 833,15 833,8 816,8"/>
<polygon class="m" points="849,-15 853,0 849,15"/>
<polygon class="m" points="854,-8 886,-8 886,-15 901,0 886,15 886,8 854,8"/>
<polygon class="o" points="904,-15 912,0 904,15"/>
<text class="t" x="521" y="-16">K</text><text class="t" x="543" y="-16">FL</text>
<text class="t" x="561" y="-16">M</text><text class="t" x="587" y="-16">N</text>
<text class="t" x="641" y="-16">O</text><text class="t" x="671" y="-16">P</text>
<text class="t" x="688" y="-16">A</text><text class="t" x="707" y="-16">Q</text>
<text class="t" x="728" y="-16">B</text><text class="t" x="745" y="-16">S</text>
<text class="t" x="758" y="-16">T</text>
<text class="t st" x="780" y="-16">6<tspan class="s" dy="3">like</tspan></text>
<text class="t" x="813" y="-16">F</text><text class="t" x="833" y="-16">H</text>
<text class="t" x="851" y="-16">I</text><text class="t" x="878" y="-16">E</text>
</g>

<g id="scale">
<text class="sc" x="1092" y="598">21 %</text>
<text class="sc" x="1283" y="598" text-anchor="end">100 %</text>
<rect x="1102" y="599" width="161" height="12" fill="url(#gg)" stroke="#777" stroke-width="0.8"/>
<rect x="1102" y="611" width="161" height="12" fill="url(#rg)" stroke="#777" stroke-width="0.8"/>
<text class="sc" x="1088" y="636">- 21 %</text>
<text class="sc" x="1286" y="636" text-anchor="end">- 100 %</text>
<line x1="1046" y1="647" x2="1277" y2="647" stroke="#111" stroke-width="1.5"/>
<line x1="1046.75" y1="643" x2="1046.75" y2="651" stroke="#111" stroke-width="1.5"/>
<line x1="1276.25" y1="643" x2="1276.25" y2="651" stroke="#111" stroke-width="1.5"/>
<text x="1157" y="664" text-anchor="middle" font-family="Liberation Sans, Arial, sans-serif" font-size="12" fill="#111">10 Kb</text>
</g>

<g id="legend" transform="translate(0,696)">
<text class="lg" x="231" y="5">mam / mms</text>
<polygon class="m" points="237,-8 264,-8 264,-14 280,0 264,14 264,8 237,8"/>
<text class="lg" x="322" y="5">mag</text>
<polygon class="g" points="329,-8 355,-8 355,-14 371,0 355,14 355,8 329,8"/>
<text class="lg" x="625" y="5">parA / chromosome partition protein</text>
<polygon class="p" points="634,-8 660,-8 660,-14 676,0 660,14 660,8 634,8"/>
<text class="lg" x="711" y="5">feo</text>
<polygon class="f" points="716,-8 742,-8 742,-14 758,0 742,14 742,8 716,8"/>
<text class="lg" x="1037" y="5">chemoreceptor zinc-binding protein / fnr</text>
<polygon class="y" points="1047,-8 1073,-8 1073,-14 1089,0 1073,14 1073,8 1047,8"/>
<text class="lg" x="1132" y="5">mca</text>
<polygon class="c" points="1140,-8 1166,-8 1166,-14 1182,0 1166,14 1166,8 1140,8"/>
<text class="lg" x="1240" y="5">others</text>
<polygon class="o" points="1246,-8 1273,-8 1273,-14 1289,0 1273,14 1273,8 1246,8"/>
</g>
</svg>
